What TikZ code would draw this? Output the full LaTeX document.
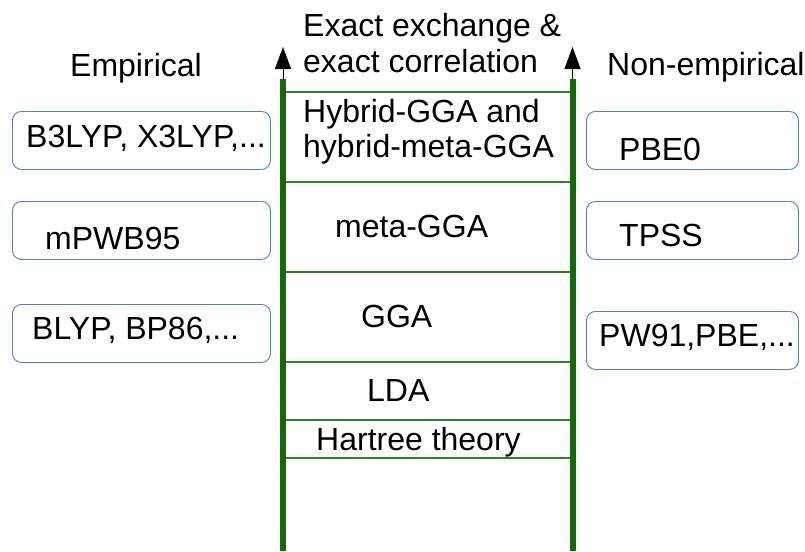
\documentclass[tikz,border=0pt]{standalone}
\usepackage{fontspec}
\setmainfont{Liberation Sans}
\usetikzlibrary{arrows.meta}
\definecolor{rail}{RGB}{22,104,10}
\definecolor{rungcol}{RGB}{50,125,40}
\definecolor{boxblue}{RGB}{84,125,192}
\tikzset{
  railline/.style={draw=rail, line width=6pt},
  rungline/.style={draw=rungcol, line width=1.5pt},
  tipline/.style={draw=black, line width=1pt, -{Triangle[width=16pt,length=22pt]}},
  methodbox/.style={draw=boxblue, line width=0.9pt, rounded corners=9pt,
    minimum height=58pt, inner sep=0pt, anchor=north west},
  txt/.style={anchor=base west, inner sep=0pt, font=\fontsize{32}{35}\selectfont}
}
\begin{document}
\begin{tikzpicture}[x=1pt, y=-1pt]
  \useasboundingbox (0,0) rectangle (805,551);

  % rails of the ladder
  \coordinate (Lbot) at (283,551);
  \coordinate (Ltop) at (283,79);
  \coordinate (Ltip) at (283,47);
  \coordinate (Rbot) at (572.5,551);
  \coordinate (Rtop) at (572.5,79);
  \coordinate (Rtip) at (572.5,47);

  % rungs
  \foreach \i/\y in {1/92, 2/182, 3/272, 4/362, 5/420, 6/458} {
    \coordinate (rl\i) at (283,\y);
    \coordinate (rr\i) at (572.5,\y);
    \draw[rungline] (rl\i) -- (rr\i);
  }

  \draw[railline] (Lbot) -- (Ltop);
  \draw[railline] (Rbot) -- (Rtop);
  \draw[tipline] (Ltop) -- (Ltip);
  \draw[tipline] (Rtop) -- (Rtip);

  % headings
  \node[txt] (emp) at (70,76) {Empirical};
  \node[txt] (nonemp) at (607,75) {Non-empirical};
  \node[txt] (exact1) at (303,37) {Exact exchange \&};
  \node[txt] (exact2) at (303,72) {exact correlation};

  % rung names
  \node[txt] (hyb1) at (303,122) {Hybrid-GGA and};
  \node[txt] (hyb2) at (303,157) {hybrid-meta-GGA};
  \node[txt] (meta) at (335,237) {meta-GGA};
  \node[txt] (gga) at (361,327) {GGA};
  \node[txt] (lda) at (367,401) {LDA};
  \node[txt] (hartree) at (316,450) {Hartree theory};

  % empirical functionals
  \node[methodbox, minimum width=258pt] (eb1) at (12,111) {};
  \node[methodbox, minimum width=258pt] (eb2) at (12,201) {};
  \node[methodbox, minimum width=258pt] (eb3) at (12,304) {};
  \node[txt] (et1) at (26,147) {B3LYP, X3LYP,...};
  \node[txt] (et2) at (45,249) {mPWB95};
  \node[txt] (et3) at (32,339) {BLYP, BP86,...};

  % non-empirical functionals
  \node[methodbox, minimum width=212pt] (nb1) at (586,111) {};
  \node[methodbox, minimum width=212pt] (nb2) at (586,201) {};
  \node[methodbox, minimum width=212pt] (nb3) at (586,311) {};
  \node[txt] (nt1) at (619,160) {PBE0};
  \node[txt] (nt2) at (619,246) {TPSS};
  \node[txt] (nt3) at (599,346) {PW91,PBE,...};
\end{tikzpicture}
\end{document}
